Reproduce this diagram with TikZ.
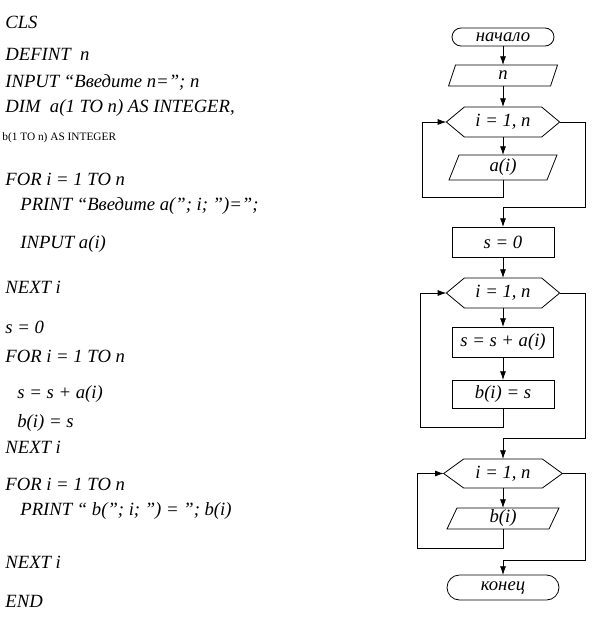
\documentclass[tikz,border=0pt]{standalone}
\usepackage{fontspec}
\setmainfont{Liberation Serif}
\usetikzlibrary{arrows.meta,calc,shapes.misc}
\newcommand{\parashape}[2]{\draw (#1.south west) -- ($(#1.north west)+(#2,0)$) -- (#1.north east) -- ($(#1.south east)-(#2,0)$) -- cycle;}
\newcommand{\hexshape}[2]{\draw (#1.west) -- ($(#1.north west)+(#2,0)$) -- ($(#1.north east)-(#2,0)$) -- (#1.east) -- ($(#1.south east)-(#2,0)$) -- ($(#1.south west)+(#2,0)$) -- cycle;}
\begin{document}
\begin{tikzpicture}[x=0.75pt,y=-0.75pt,line width=0.6pt,
  code/.style={anchor=base west,inner sep=0pt,font=\fontsize{14}{16}\selectfont\itshape},
  smallcode/.style={anchor=base west,inner sep=0pt,font=\fontsize{8.5}{10}\selectfont},
  lbl/.style={font=\fontsize{14}{16}\selectfont\itshape,inner sep=0pt,outer sep=0pt},
  shapebox/.style={lbl,draw=none,rectangle},
  term/.style={lbl,draw,rounded rectangle},
  procbox/.style={lbl,draw,rectangle},
  arr/.style={-{Latex[length=6.5pt,width=4.5pt]}}]
\fill[white] (0,0) rectangle (597,621);
\useasboundingbox (0,0) rectangle (597,621);

% program text
\node[code] (t1) at (5,28) {CLS};
\node[code] (t2) at (5,60) {DEFINT\ \ n};
\node[code] (t3) at (5,87) {INPUT “Введите n=”; n};
\node[code] (t4) at (5,112) {DIM\ \ a(1 TO n) AS INTEGER,};
\node[smallcode] (t5) at (2,140) {b(1 TO n) AS INTEGER};
\node[code] (t6) at (5,185) {FOR i = 1 TO n};
\node[code] (t7) at (20,210) {PRINT “Введите a(”; i; ”)=”;};
\node[code] (t8) at (20,248) {INPUT a(i)};
\node[code] (t9) at (5,293) {NEXT i};
\node[code] (t10) at (5,333) {s = 0};
\node[code] (t11) at (5,362) {FOR i = 1 TO n};
\node[code] (t12) at (17,398) {s = s + a(i)};
\node[code] (t13) at (17,427) {b(i) = s};
\node[code] (t14) at (5,453) {NEXT i};
\node[code] (t15) at (5,490) {FOR i = 1 TO n};
\node[code] (t16) at (20,515) {PRINT “ b(”; i; ”) = ”; b(i)};
\node[code] (t17) at (5,568) {NEXT i};
\node[code] (t18) at (5,607) {END};

% flowchart
\node[term,minimum width=76.5pt,minimum height=13.5pt] (start) at (503,37) {начало};
\node[shapebox,minimum width=81.75pt,minimum height=15.75pt] (inN) at (503,75.5) {n};
\parashape{inN}{7}
\node[shapebox,minimum width=85pt,minimum height=22.5pt] (h1) at (503,122) {i = 1, n};
\hexshape{h1}{18}
\node[shapebox,minimum width=81pt,minimum height=18.75pt] (inA) at (503,167.5) {a(i)};
\parashape{inA}{10}
\node[procbox,minimum width=76.5pt,minimum height=22.5pt] (s0) at (503,242) {s = 0};
\node[shapebox,minimum width=85pt,minimum height=22.5pt] (h2) at (503,293) {i = 1, n};
\hexshape{h2}{18}
\node[procbox,minimum width=76pt,minimum height=22.5pt] (sum) at (503,342) {s = s + a(i)};
\node[procbox,minimum width=76.5pt,minimum height=21pt] (bis) at (503,394) {b(i) = s};
\node[shapebox,minimum width=89pt,minimum height=21.75pt] (h3) at (503,473.5) {i = 1, n};
\hexshape{h3}{20}
\node[shapebox,minimum width=84pt,minimum height=15.75pt] (outB) at (503,518.5) {b(i)};
\parashape{outB}{10}
\node[term,minimum width=84pt,minimum height=18.75pt] (stop) at (503,587.5) {конец};

\coordinate (r1) at (422,197);
\coordinate (x1) at (585,207);
\coordinate (r2) at (420,427);
\coordinate (x2) at (585,438);
\coordinate (r3) at (417,548);
\coordinate (x3) at (585,560);

\draw[arr] (start.south) -- (inN.north);
\draw[arr] (inN.south) -- (h1.north);
\draw[arr] (h1.south) -- (inA.north);
\draw[arr] (inA.south) |- (r1) |- (h1.west);
\draw[arr] (h1.east) -| (x1) -| (s0.north);
\draw[arr] (s0.south) -- (h2.north);
\draw[arr] (h2.south) -- (sum.north);
\draw[arr] (sum.south) -- (bis.north);
\draw[arr] (bis.south) |- (r2) |- (h2.west);
\draw[arr] (h2.east) -| (x2) -| (h3.north);
\draw[arr] (h3.south) -- (outB.north);
\draw[arr] (outB.south) |- (r3) |- (h3.west);
\draw[arr] (h3.east) -| (x3) -| (stop.north);
\end{tikzpicture}
\end{document}
